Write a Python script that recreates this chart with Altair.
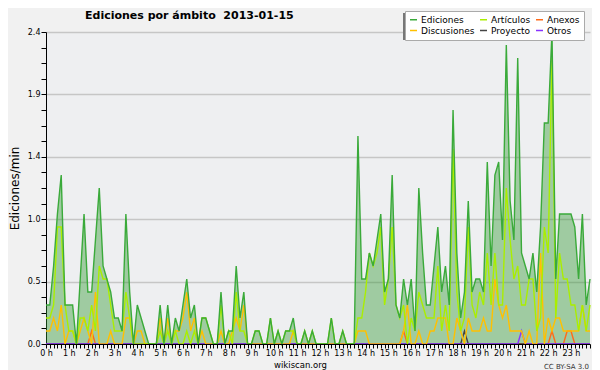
import altair as alt
import pandas as pd

# ---- data (edits per minute, 10-minute bins, 2013-01-15) ----
series = ["Ediciones", "Discusiones", "Artículos", "Proyecto", "Anexos", "Otros"]
colores = ["#3aaa3a", "#ffc000", "#aaee00", "#444444", "#ff6a1a", "#8833ff"]

ediciones = [
    0.3, 0.3, 0.6, 1.0, 1.3, 0.3, 0.3, 0.3, 0.0, 0.5,
    1.0, 0.4, 0.4, 0.8, 1.2, 0.6, 0.5, 0.4, 0.2, 0.2,
    0.1, 1.0, 0.4, 0.0, 0.3, 0.2, 0.1, 0.0, 0.0, 0.0,
    0.3, 0.0, 0.3, 0.0, 0.2, 0.1, 0.3, 0.5, 0.2, 0.3,
    0.0, 0.2, 0.2, 0.1, 0.0, 0.0, 0.4, 0.0, 0.1, 0.1,
    0.6, 0.2, 0.4, 0.0, 0.0, 0.1, 0.1, 0.0, 0.0, 0.2,
    0.0, 0.1, 0.0, 0.1, 0.1, 0.2, 0.0, 0.0, 0.1, 0.0,
    0.1, 0.0, 0.0, 0.0, 0.0, 0.2, 0.0, 0.0, 0.1, 0.0,
    0.0, 0.0, 1.6, 0.5, 0.5, 0.7, 0.6, 0.8, 1.0, 0.4,
    0.5, 1.3, 0.3, 0.2, 0.5, 0.3, 0.5, 0.1, 1.2, 0.7,
    0.3, 0.3, 0.6, 0.9, 0.4, 0.6, 0.3, 1.8, 0.7, 0.2,
    0.4, 1.1, 0.4, 0.5, 0.5, 0.4, 1.4, 0.6, 1.3, 1.4,
    0.8, 2.3, 1.1, 0.8, 2.2, 0.7, 0.6, 0.5, 0.7, 0.4,
    0.9, 1.7, 1.7, 2.4, 0.5, 1.0, 1.0, 1.0, 1.0, 0.9,
    0.5, 1.0, 0.3, 0.5,
]
articulos = [
    0.2, 0.2, 0.3, 0.9, 0.9, 0.3, 0.1, 0.1, 0.0, 0.2,
    0.2, 0.1, 0.3, 0.1, 0.6, 0.5, 0.5, 0.3, 0.1, 0.1,
    0.1, 0.4, 0.2, 0.0, 0.0, 0.0, 0.0, 0.0, 0.0, 0.0,
    0.1, 0.0, 0.1, 0.0, 0.1, 0.0, 0.0, 0.1, 0.0, 0.1,
    0.0, 0.2, 0.2, 0.1, 0.0, 0.0, 0.3, 0.0, 0.1, 0.0,
    0.4, 0.1, 0.1, 0.0, 0.0, 0.1, 0.1, 0.0, 0.0, 0.2,
    0.0, 0.1, 0.0, 0.1, 0.1, 0.1, 0.0, 0.0, 0.1, 0.0,
    0.1, 0.0, 0.0, 0.0, 0.0, 0.2, 0.0, 0.0, 0.1, 0.0,
    0.0, 0.0, 0.2, 0.2, 0.4, 0.7, 0.6, 0.7, 0.9, 0.3,
    0.5, 0.9, 0.3, 0.2, 0.3, 0.0, 0.2, 0.1, 0.4, 0.3,
    0.2, 0.2, 0.2, 0.6, 0.1, 0.3, 0.1, 1.5, 0.4, 0.1,
    0.2, 0.9, 0.3, 0.2, 0.4, 0.3, 0.7, 0.3, 0.7, 0.3,
    0.3, 1.2, 0.8, 0.5, 0.6, 0.3, 0.3, 0.5, 0.5, 0.1,
    0.2, 0.9, 0.7, 2.2, 0.2, 0.7, 0.5, 0.5, 0.3, 0.3,
    0.1, 0.3, 0.1, 0.3,
]
discusiones = [
    0.1, 0.1, 0.2, 0.1, 0.3, 0.0, 0.1, 0.1, 0.0, 0.1,
    0.2, 0.1, 0.0, 0.4, 0.0, 0.0, 0.0, 0.1, 0.0, 0.0,
    0.0, 0.2, 0.2, 0.0, 0.1, 0.1, 0.0, 0.0, 0.0, 0.0,
    0.2, 0.0, 0.2, 0.0, 0.1, 0.1, 0.2, 0.4, 0.1, 0.2,
    0.0, 0.1, 0.0, 0.0, 0.0, 0.0, 0.1, 0.0, 0.0, 0.1,
    0.2, 0.1, 0.3, 0.0, 0.0, 0.0, 0.0, 0.0, 0.0, 0.0,
    0.0, 0.0, 0.0, 0.0, 0.0, 0.1, 0.0, 0.0, 0.0, 0.0,
    0.0, 0.0, 0.0, 0.0, 0.0, 0.0, 0.0, 0.0, 0.0, 0.0,
    0.0, 0.0, 0.1, 0.1, 0.1, 0.0, 0.0, 0.0, 0.0, 0.0,
    0.0, 0.0, 0.0, 0.0, 0.1, 0.3, 0.0, 0.0, 0.1, 0.0,
    0.0, 0.1, 0.1, 0.2, 0.2, 0.2, 0.0, 0.0, 0.2, 0.1,
    0.0, 0.2, 0.1, 0.1, 0.1, 0.2, 0.1, 0.1, 0.5, 0.3,
    0.2, 0.3, 0.1, 0.1, 0.1, 0.1, 0.0, 0.1, 0.0, 0.0,
    0.7, 0.0, 0.2, 0.1, 0.2, 0.2, 0.1, 0.1, 0.1, 0.1,
    0.1, 0.3, 0.1, 0.1,
]
anexos_pts = {12: 0.1, 94: 0.1, 133: 0.1, 137: 0.1, 138: 0.1}
proyecto_pts = {110: 0.1}
otros_pts = {125: 0.1}

y_ticks = [round(0.12 * k, 2) for k in range(21)]

n = len(ediciones)


def expand(d):
    return [d.get(i, 0.0) for i in range(n)]


valores = {
    "Ediciones": ediciones,
    "Artículos": articulos,
    "Discusiones": discusiones,
    "Anexos": expand(anexos_pts),
    "Proyecto": expand(proyecto_pts),
    "Otros": expand(otros_pts),
}
draw_order = ["Anexos", "Proyecto", "Otros", "Discusiones", "Artículos", "Ediciones"]
rows = []
for s in draw_order:
    for i, v in enumerate(valores[s]):
        rows.append({"i": i, "v": v, "serie": s})
long_df = pd.DataFrame(rows)
area_df = pd.DataFrame({"i": list(range(n)), "v": ediciones})
note_df = pd.DataFrame({"t": ["CC BY-SA 3.0"]})

FONT = "DejaVu Sans"

x_axis = alt.Axis(
    values=list(range(n)),
    labelExpr="datum.value % 6 == 0 ? (datum.value / 6) + ' h' : ''",
    labelOverlap=False,
    labelFlush=False,
    labelFontSize=8,
    labelFont=FONT,
    labelColor="black",
    labelPadding=1,
    tickSize=4,
    tickColor="black",
    domainColor="black",
    grid=False,
    zindex=1,
    title="wikiscan.org",
    titleFont=FONT,
    titleFontSize=8.5,
    titleFontWeight="normal",
    titleColor="black",
    titleX=254,
    titleY=23,
    titleBaseline="alphabetic",
    titleAlign="center",
)
y_axis = alt.Axis(
    values=y_ticks,
    labelExpr="(round(datum.value * 100) % 48 == 0) ? format(datum.value, '.1f') : ''",
    labelOverlap=False,
    labelFontSize=8,
    labelFont=FONT,
    labelColor="black",
    labelPadding=1,
    tickSize=5,
    tickColor="black",
    domainColor="black",
    gridColor="#c6c6c6",
    gridWidth=1.5,
    gridOpacity={
        "condition": {"test": "round(datum.value * 100) % 48 == 0 && datum.value > 0", "value": 1},
        "value": 0,
    },
    title="Ediciones/min",
    titleFont=FONT,
    titleFontSize=12,
    titleFontWeight="normal",
    titleColor="black",
    titleAngle=270,
    titleX=-37,
    titleY=156,
    titleBaseline="top",
    titleAlign="center",
)
x_scale = alt.Scale(domain=[0, n - 1], nice=False, zero=False)
y_scale = alt.Scale(domain=[0, 2.4], nice=False)

area = alt.Chart(area_df).mark_area(color="#339933", opacity=0.42, interpolate="linear").encode(
    x=alt.X("i:Q", scale=x_scale, axis=x_axis),
    y=alt.Y("v:Q", scale=y_scale, axis=y_axis),
)

lines = alt.Chart(long_df).mark_line(strokeWidth=1.4, interpolate="linear").encode(
    x=alt.X("i:Q", scale=x_scale, axis=x_axis),
    y=alt.Y("v:Q", scale=y_scale, axis=y_axis),
    color=alt.Color(
        "serie:N",
        scale=alt.Scale(domain=series, range=colores),
        legend=alt.Legend(
            title=None,
            orient="none",
            legendX=359,
            legendY=-21,
            columns=3,
            symbolType="stroke",
            symbolSize=49,
            symbolStrokeWidth=1.5,
            labelFont=FONT,
            labelFontSize=9,
            labelColor="black",
            labelOffset=3,
            columnPadding=2,
            rowPadding=1,
            padding=4,
            fillColor="white",
            strokeColor="#aaaaaa",
        ),
    ),
)

shadow = alt.Chart(note_df).mark_rect(color="#777777").encode(
    x=alt.value(357), x2=alt.value(538), y=alt.value(-19), y2=alt.value(8)
)

note = alt.Chart(note_df).mark_text(
    align="right", baseline="alphabetic", font=FONT, fontSize=7, color="#333333"
).encode(x=alt.value(543), y=alt.value(337), text="t:N")

chart = (
    alt.layer(area, shadow, lines, note)
    .properties(
        width=544,
        height=312,
        padding={"left": 38, "top": 24, "right": 2, "bottom": 26},
        autosize=alt.AutoSizeParams(type="none"),
        title=alt.TitleParams(
            "Ediciones por ámbito \u00a02013-01-15",
            anchor="start",
            frame="group",
            dx=39,
            dy=20,
            offset=10,
            font=FONT,
            fontSize=11,
            fontWeight="bold",
            color="black",
        ),
    )
    .configure(background="#f1f1f1")
    .configure_view(fill="#eeeff1", stroke=None)
)

chart.save("out.html", embed_options={"renderer": "svg", "actions": False})
